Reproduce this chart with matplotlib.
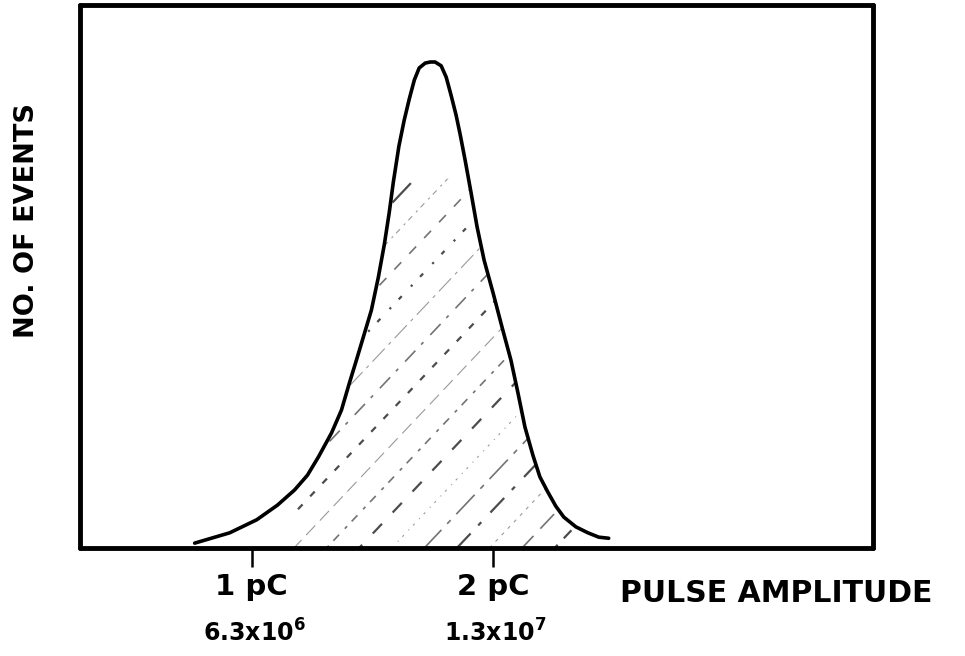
import numpy as np
import matplotlib.pyplot as plt
from matplotlib.transforms import blended_transform_factory

# pulse height spectrum, amplitude in pC, counts in arbitrary units
amp = [0.764, 0.909, 1.021, 1.107, 1.178, 1.231, 1.277, 1.331, 1.372, 1.405,
       1.434, 1.463, 1.496, 1.525, 1.550, 1.570, 1.587, 1.610, 1.632, 1.653,
       1.674, 1.694, 1.719, 1.740, 1.760, 1.785, 1.806, 1.826, 1.847, 1.864,
       1.884, 1.909, 1.934, 1.963, 2.000, 2.037, 2.074, 2.103, 2.132, 2.165,
       2.194, 2.227, 2.260, 2.293, 2.343, 2.393, 2.438, 2.479]
events = [0.9, 2.8, 5.2, 7.9, 10.7, 13.4, 16.8, 21.2, 25.4, 30.4,
          34.6, 38.9, 43.8, 49.9, 56.0, 61.8, 67.4, 74.0, 78.8, 82.7,
          86.2, 88.4, 89.3, 89.5, 89.5, 88.8, 86.7, 83.4, 79.7, 76.1,
          71.5, 65.4, 59.1, 53.0, 47.0, 40.7, 34.6, 28.6, 22.3, 17.1,
          13.1, 10.3, 7.7, 5.7, 3.9, 2.8, 2.0, 1.8]

tick_pos = [1, 2]
tick_top = ['1 pC', '2 pC']
tick_bottom = [r'6.3x10$^{\mathbf{6}}$', r'1.3x10$^{\mathbf{7}}$']

plt.rcParams['font.family'] = 'DejaVu Sans'
plt.rcParams['font.weight'] = 'bold'

fig = plt.figure(figsize=(9.65, 6.56), dpi=100)
ax = fig.add_axes([0.0829, 0.1646, 0.8218, 0.8278])
ax.set_xlim(0.289, 3.574)
ax.set_ylim(0, 100)

x = np.array(amp)
y = np.array(events)

ax.plot(x, y, color='black', lw=2.6, solid_joinstyle='round',
        solid_capstyle='round', zorder=3)

# shaded band under the curve, drawn as broken diagonal strokes
band = (x >= 1.12) & (x <= 2.40)
clip = ax.fill_between(x, 0, np.minimum(y, 68), where=band,
                       color='none', lw=0)
slope = 47.0
styles = [(0, (9, 5, 2, 6)), (0, (3, 5)), (2, (12, 6)), (0, (2, 4, 5, 5)),
          (4, (6, 7)), (0, (2, 6, 1, 5)), (1, (16, 5, 3, 5))]
for i, x0 in enumerate(np.arange(-0.04, 2.40, 0.135)):
    ln, = ax.plot([x0, x0 + 2.5], [0, 2.5 * slope], color='black',
                  lw=0.8 + 0.4 * (i % 3), ls=styles[i % len(styles)],
                  alpha=0.4 + 0.15 * (i % 3), zorder=2)
    ln.set_clip_path(clip.get_paths()[0], ax.transData)

for side in ax.spines.values():
    side.set_linewidth(3.5)
    side.set_joinstyle('round')
    side.set_capstyle('round')

ax.set_yticks([])
ax.set_xticks(tick_pos)
ax.set_xticklabels(tick_top, fontsize=21, fontweight='bold')
ax.tick_params(axis='x', direction='out', length=14, width=1.8, pad=4)

trans = blended_transform_factory(ax.transData, ax.transAxes)
for pos, lab in zip(tick_pos, tick_bottom):
    ax.text(pos + 0.01, -0.173, lab, transform=trans, ha='center',
            va='baseline', fontsize=17, fontweight='bold')

fig.text(620 / 965, (656 - 602) / 656, 'PULSE AMPLITUDE', ha='left',
         va='baseline', fontsize=21.5, fontweight='bold')
fig.text(27 / 965, (656 - 220) / 656, 'NO. OF EVENTS', rotation=90,
         ha='center', va='center', fontsize=19.5, fontweight='bold')

fig.savefig('out.png', dpi=100, facecolor='white')
